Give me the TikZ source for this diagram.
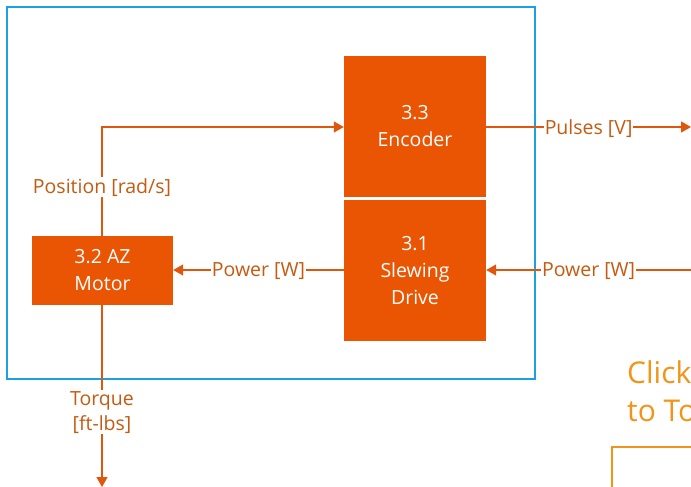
\documentclass[tikz,border=0pt]{standalone}
\usepackage{fontspec}
\setmainfont{Open Sans}
\usetikzlibrary{arrows.meta}
\definecolor{boxor}{HTML}{EA5504}
\definecolor{lineor}{HTML}{E0560C}
\definecolor{labor}{HTML}{C55A11}
\definecolor{frameblue}{HTML}{1BA1E2}
\definecolor{clickor}{HTML}{F29418}
\tikzset{
  x=1pt,y=-1pt,
  blockbox/.style={fill=boxor,draw=none,text=white,align=center,font=\fontsize{19.5}{27}\selectfont,inner sep=0pt},
  conn/.style={draw=lineor,line width=1.3pt,-{Triangle[length=10pt,width=11pt]}},
  lab/.style={fill=white,text=labor,font=\fontsize{19.5}{25}\selectfont,inner sep=1pt,align=center,yshift=-1.5pt},
}
\begin{document}
\begin{tikzpicture}
\useasboundingbox (0,0) rectangle (691,487);
\clip (0,0) rectangle (691,487);
\draw[frameblue,line width=1.3pt] (7,7) rectangle (535,379);
\node[blockbox,minimum width=142pt,minimum height=141pt] (enc) at (415,126.5) {3.3\\Encoder};
\node[blockbox,minimum width=142pt,minimum height=141pt] (sd) at (415,270.5) {3.1\\Slewing\\Drive};
\node[blockbox,minimum width=141pt,minimum height=69pt] (mot) at (102.5,270.5) {3.2 AZ\\Motor};
\coordinate (pout) at (691,127);
\coordinate (pin) at (691,270);
\coordinate (tq) at (102,487);
\draw[conn] (mot.north -| 102,0) |- (enc.west |- 0,127) node[lab,pos=0.23] {Position [rad/s]};
\draw[conn] (sd.west |- 0,270) -- (mot.east |- 0,270) node[lab,midway] {Power [W]};
\draw[conn] (enc.east |- 0,127) -- (pout) node[lab,pos=0.5] {Pulses [V]};
\draw[conn] (pin) -- (sd.east |- 0,270) node[lab,pos=0.5] {Power [W]};
\draw[conn] (mot.south -| 102,0) -- (tq) node[lab,pos=0.58] {Torque\\{}[ft-lbs]};
\node[anchor=west,text=clickor,font=\fontsize{30}{38}\selectfont,align=left,inner sep=0pt] (click) at (627,391) {Click\\to To};
\draw[clickor,line width=1.3pt] (612,487) -- (612,447) -- (700,447);
\end{tikzpicture}
\end{document}
